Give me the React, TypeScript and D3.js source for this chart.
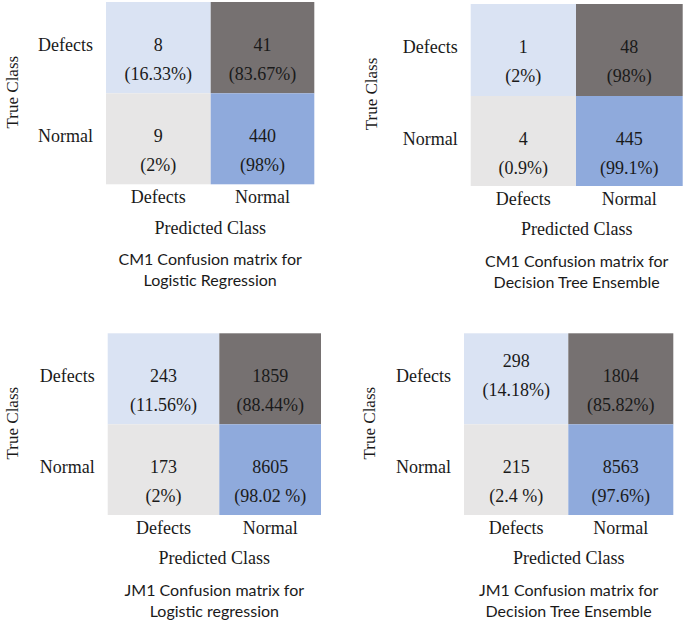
import React from "react";
import * as d3 from "d3";

// ---------- data ----------
const classes = ["Defects", "Normal"];
const titles = [
  ["CM1 Confusion matrix for", "Logistic Regression"],
  ["CM1 Confusion matrix for", "Decision Tree Ensemble"],
  ["JM1 Confusion matrix for", "Logistic regression"],
  ["JM1 Confusion matrix for", "Decision Tree Ensemble"],
];
// row-major: [Defects/Defects, Defects/Normal, Normal/Defects, Normal/Normal]
const cm1LogReg = [8, 41, 9, 440];
const cm1Tree = [1, 48, 4, 445];
const jm1LogReg = [243, 1859, 173, 8605];
const jm1Tree = [298, 1804, 215, 8563];
const counts = [cm1LogReg, cm1Tree, jm1LogReg, jm1Tree];
const cm1LogRegPct = ["16.33%", "83.67%", "2%", "98%"];
const cm1TreePct = ["2%", "98%", "0.9%", "99.1%"];
const jm1LogRegPct = ["11.56%", "88.44%", "2%", "98.02 %"];
const jm1TreePct = ["14.18%", "85.82%", "2.4 %", "97.6%"];
const percents = [cm1LogRegPct, cm1TreePct, jm1LogRegPct, jm1TreePct];
const yLabel = "True Class";
const xLabel = "Predicted Class";

// ---------- layout / style ----------
const cellColors = ["#dae3f3", "#767171", "#e7e6e6", "#8faadc"];
const layouts = [
  { xs: [106, 210.7, 314.3], ys: [2, 93.3, 184.3], yLab: 18, shift: [0, 0, 0, 0] },
  { xs: [470.7, 576, 682.7], ys: [4, 96, 186], yLab: 376.5, shift: [0, 0, 0, 0] },
  { xs: [107.7, 219.3, 321], ys: [333.3, 424.3, 515], yLab: 18, shift: [0, 0, 0, 0] },
  { xs: [464, 568.3, 673.3], ys: [333.3, 424.3, 515], yLab: 375, shift: [-15, 0, 0, 0] },
];
const serif = "'Liberation Serif', 'Times New Roman', serif";
const sans = "Lato, 'Open Sans', sans-serif";
const ink = "#1a1a1a";

function Panel({ idx }: { idx: number }) {
  const L = layouts[idx];
  const x = d3.scaleLinear().domain([0, 1, 2]).range(L.xs);
  const y = d3.scaleLinear().domain([0, 1, 2]).range(L.ys);
  const cells = d3.range(4).map((k) => ({ r: Math.floor(k / 2), c: k % 2, k }));
  const cx = (c: number) => (x(c) + x(c + 1)) / 2;
  const gridMid = (L.xs[0] + L.xs[2]) / 2;
  const bottom = L.ys[2];
  return (
    <g>
      {cells.map((d) => (
        <rect
          key={"r" + d.k}
          x={x(d.c)}
          y={y(d.r)}
          width={x(d.c + 1) - x(d.c)}
          height={y(d.r + 1) - y(d.r)}
          fill={cellColors[d.k]}
        />
      ))}
      {cells.map((d) => (
        <g key={"t" + d.k} fontFamily={serif} fontSize={18} fill={ink} textAnchor="middle">
          <text x={cx(d.c)} y={y(d.r) + 48.5 + L.shift[d.k]}>
            {d3.format("d")(counts[idx][d.k])}
          </text>
          <text x={cx(d.c)} y={y(d.r) + 78 + L.shift[d.k]}>
            {"(" + percents[idx][d.k] + ")"}
          </text>
        </g>
      ))}
      {classes.map((name, i) => (
        <text
          key={"row" + i}
          x={L.xs[0] - 13}
          y={y(i) + 48.5}
          textAnchor="end"
          fontFamily={serif}
          fontSize={18}
          fill={ink}
        >
          {name}
        </text>
      ))}
      {classes.map((name, i) => (
        <text
          key={"col" + i}
          x={cx(i)}
          y={bottom + 18.5}
          textAnchor="middle"
          fontFamily={serif}
          fontSize={18}
          fill={ink}
        >
          {name}
        </text>
      ))}
      <text
        transform={`translate(${L.yLab},${(L.ys[0] + L.ys[2]) / 2 - 1}) rotate(-90)`}
        textAnchor="middle"
        fontFamily={serif}
        fontSize={17}
        fill={ink}
      >
        {yLabel}
      </text>
      <text x={gridMid} y={bottom + 49.3} textAnchor="middle" fontFamily={serif} fontSize={18} fill={ink}>
        {xLabel}
      </text>
      {titles[idx].map((line, i) => (
        <text
          key={"ti" + i}
          x={gridMid}
          y={bottom + 80.5 + i * 21}
          textAnchor="middle"
          fontFamily={sans}
          fontSize={16}
          fill={ink}
        >
          {line}
        </text>
      ))}
    </g>
  );
}

export default function App() {
  return (
    <svg
      width={685}
      height={622}
      viewBox="0 0 685 622"
      style={{ position: "absolute", left: 0, top: 0, background: "#fff" }}
    >
      <rect width={685} height={622} fill="#fff" />
      {counts.map((_, i) => (
        <Panel key={i} idx={i} />
      ))}
    </svg>
  );
}
